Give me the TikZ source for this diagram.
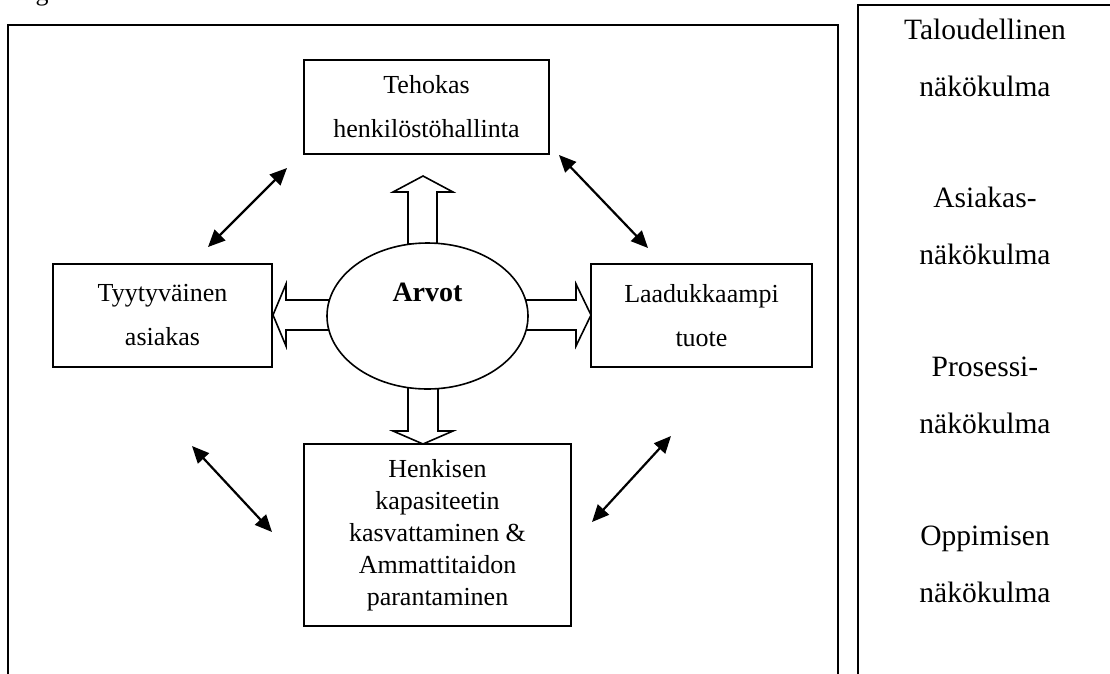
\documentclass[tikz,border=0pt]{standalone}
\usepackage{fontspec}
\setmainfont{Liberation Serif}
\usetikzlibrary{arrows.meta,shapes.geometric}
\begin{document}
\begin{tikzpicture}[x=1pt,y=-1pt,
  box/.style={draw, line width=1.6pt, align=center, inner sep=0pt,
    font=\fontsize{26}{44}\selectfont},
  frame/.style={line width=2.6pt},
  link/.style={line width=2.2pt,
    {Triangle[length=17pt,width=15pt]}-{Triangle[length=17pt,width=15pt]}},
  blockarrow/.style={draw, line width=1.6pt, fill=white, line join=miter},
  side/.style={align=center, font=\fontsize{29.5}{57}\selectfont}]
\useasboundingbox (0,0) rectangle (1110,673);

% caption line above the figure, mostly cut off by the page edge
\node[anchor=base, font=\fontsize{26}{30}\selectfont, inner sep=0pt] (caption) at (42,0) {g};

% outer frames
\draw[frame] (8,700) -- (8,25) -- (838,25) -- (838,700);
\draw[frame] (858,700) -- (858,5) -- (1116,5) -- (1116,700);

% boxes around the core values
\node[box, minimum width=245pt, minimum height=94pt] (hr) at (426.5,107)
  {Tehokas\\henkilöstöhallinta};
\node[box, minimum width=219pt, minimum height=103pt] (cust) at (162.5,315.5)
  {Tyytyväinen\\asiakas};
\node[box, minimum width=221pt, minimum height=103pt] (qual) at (701.5,315.5)
  {Laadukkaampi\\tuote};
\node[box, minimum width=267pt, minimum height=182pt,
  font=\fontsize{26}{32}\selectfont] (skill) at (437.5,535)
  {Henkisen\\kapasiteetin\\kasvattaminen \&\\Ammattitaidon\\parantaminen};

% hollow block arrows leaving the centre
\draw[blockarrow] (408,244) -- (408,192) -- (393,192) -- (423,176) -- (453,192) -- (437,192) -- (437,244) -- cycle;
\draw[blockarrow] (408,386) -- (408,431) -- (393,431) -- (423,444) -- (453,431) -- (438,431) -- (438,386) -- cycle;
\draw[blockarrow] (332,300) -- (286,300) -- (286,284) -- (273,315) -- (286,346) -- (286,330) -- (332,330) -- cycle;
\draw[blockarrow] (523,300) -- (576,300) -- (576,284) -- (591,315) -- (576,346) -- (576,330) -- (523,330) -- cycle;

% central ellipse
\node[draw, ellipse, line width=1.6pt, fill=white, inner sep=0pt,
  minimum width=201pt, minimum height=146pt] (values) at (427.5,316) {};
\node[font=\fontsize{28}{32}\selectfont\bfseries] (valuesname) at (427.5,292) {Arvot};

% two-way links between the perspectives
\coordinate (ulA) at (287,168); \coordinate (ulB) at (208,247);
\coordinate (urA) at (559,155); \coordinate (urB) at (648,248);
\coordinate (llA) at (192,446); \coordinate (llB) at (272,532);
\coordinate (lrA) at (592,522); \coordinate (lrB) at (671,436);
\draw[link] (ulA) -- (ulB);
\draw[link] (urA) -- (urB);
\draw[link] (llA) -- (llB);
\draw[link] (lrA) -- (lrB);

% perspective column
\node[side] (fin) at (985,58) {Taloudellinen\\näkökulma};
\node[side] (cus) at (985,226) {Asiakas-\\näkökulma};
\node[side] (pro) at (985,395) {Prosessi-\\näkökulma};
\node[side] (lea) at (985,564) {Oppimisen\\näkökulma};
\end{tikzpicture}
\end{document}
